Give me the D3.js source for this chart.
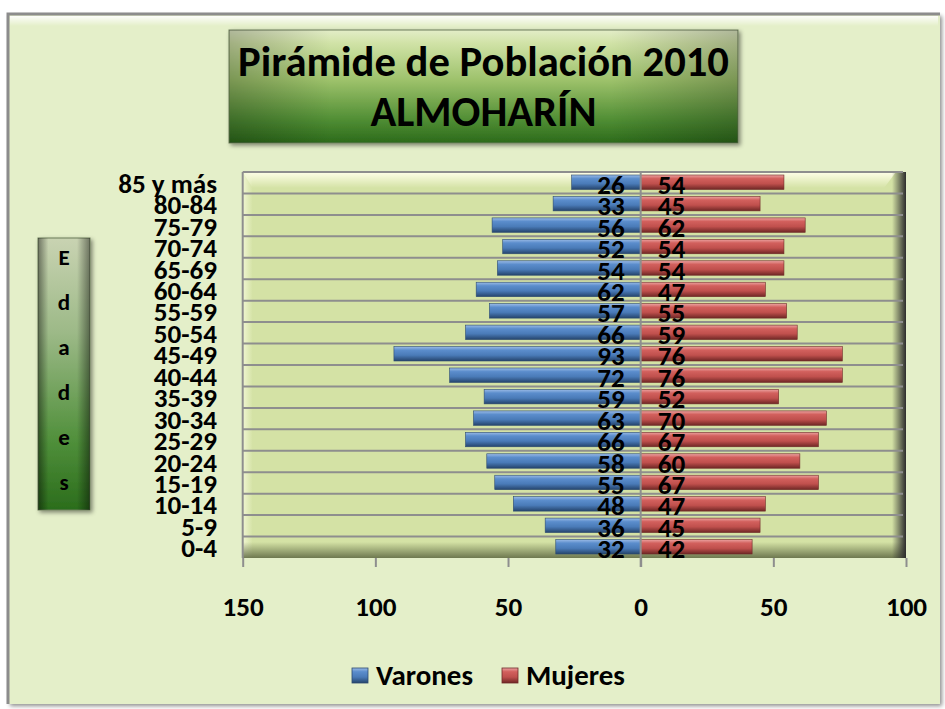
<!DOCTYPE html>
<html lang="es">
<head>
<meta charset="UTF-8">
<title>Pirámide de Población 2010 ALMOHARÍN</title>
<script src="https://cdn.jsdelivr.net/npm/d3@7"></script>
<style>
  body { margin: 0; background: #ffffff; }
  svg { display: block; }
  text { font-family: Carlito, Calibri, Lato, "Open Sans", sans-serif; font-weight: bold; fill: #000; }
</style>
</head>
<body>
<svg id="chart" width="945" height="709"></svg>
<script>
// data
const categories = ["0-4", "5-9", "10-14", "15-19", "20-24", "25-29", "30-34", "35-39", "40-44",
  "45-49", "50-54", "55-59", "60-64", "65-69", "70-74", "75-79", "80-84", "85 y más"];
const varones = [32, 36, 48, 55, 58, 66, 63, 59, 72, 93, 66, 57, 62, 54, 52, 56, 33, 26];
const mujeres = [42, 45, 47, 67, 60, 67, 70, 52, 76, 76, 59, 55, 47, 54, 54, 62, 45, 54];
const xTicks = [-150, -100, -50, 0, 50, 100];
const seriesNames = ["Varones", "Mujeres"];
const titleLines = ["Pirámide de Población 2010", "ALMOHARÍN"];
const axisTitle = "Edades";

const svg = d3.select("#chart");
const defs = svg.append("defs");

// size a font so that a sample string gets the width it has in the picture
function fitSize(sample, target) {
  const t = svg.append("text").attr("font-size", 100).text(sample);
  const w = t.node().getComputedTextLength();
  t.remove();
  return 100 * target / w;
}
const numSize = fitSize("5555", 55);
const titleSize = fitSize(titleLines[0], 491);
const legendSize = fitSize("Varones", 97);

function linGrad(id, stops, vertical = true) {
  const g = defs.append("linearGradient").attr("id", id)
    .attr("x1", 0).attr("y1", 0).attr("x2", vertical ? 0 : 1).attr("y2", vertical ? 1 : 0);
  stops.forEach(s => g.append("stop").attr("offset", s[0]).attr("stop-color", s[1]).attr("stop-opacity", s[2] == null ? 1 : s[2]));
}
linGrad("gBlue", [[0, "#9bbbe6"], [0.25, "#5b8dcc"], [0.6, "#4a7bb8"], [1, "#25446c"]]);
linGrad("gRed", [[0, "#eba3a1"], [0.25, "#d2605d"], [0.6, "#c0504d"], [1, "#6f2725"]]);
linGrad("gTitle", [[0, "#e3edc8"], [0.12, "#d0e2a6"], [0.45, "#9cc16a"], [0.8, "#4f8d33"], [1, "#2c6a1b"]]);
linGrad("gEdades", [[0, "#c9d3b2"], [0.35, "#9cb987"], [0.75, "#4f8f3a"], [1, "#2b6d1c"]]);
linGrad("gEdgeH", [[0, "#000", 0.45], [0.2, "#000", 0], [0.75, "#000", 0], [1, "#000", 0.45]], false);
linGrad("gTopBevel", [[0, "#ffffe8", 1], [1, "#ffffe8", 0]]);
linGrad("gLeftWall", [[0, "#f3f8d6", 0.9], [1, "#f3f8d6", 0]], false);
linGrad("gRightWall", [[0, "#2d2d2d", 0], [1, "#2d2d2d", 1]], false);
linGrad("gFloor", [[0, "#5c6640", 0], [1, "#5c6640", 0.85]]);
linGrad("gOuterTop", [[0, "#ffffff", 0.9], [1, "#ffffff", 0]]);

const shadow = defs.append("filter").attr("id", "shadow").attr("x", "-10%").attr("y", "-10%").attr("width", "130%").attr("height", "130%");
shadow.append("feDropShadow").attr("dx", 2).attr("dy", 2).attr("stdDeviation", 2).attr("flood-color", "#000").attr("flood-opacity", 0.45);

// outer chart area
svg.append("rect").attr("x", 8).attr("y", 14).attr("width", 932).attr("height", 690)
  .attr("fill", "#e4efc9").attr("filter", "url(#shadow)");
svg.append("rect").attr("x", 10).attr("y", 16).attr("width", 928).attr("height", 10).attr("fill", "url(#gOuterTop)");
svg.append("path").attr("d", "M8,704 V14 H940").attr("fill", "none").attr("stroke", "#8c8c8c").attr("stroke-width", 3);

// title box
const tb = { x: 229, y: 30, w: 509, h: 113 };
svg.append("rect").attr("x", tb.x).attr("y", tb.y).attr("width", tb.w).attr("height", tb.h)
  .attr("fill", "url(#gTitle)").attr("stroke", "#6d7d5a").attr("stroke-width", 1).attr("filter", "url(#shadow)");
svg.append("rect").attr("x", tb.x).attr("y", tb.y).attr("width", tb.w).attr("height", tb.h)
  .attr("fill", "url(#gEdgeH)").attr("opacity", 0.5);
svg.selectAll("text.title").data(titleLines).join("text").attr("class", "title")
  .attr("x", tb.x + tb.w / 2).attr("y", (d, i) => 76 + i * 50)
  .attr("text-anchor", "middle").attr("font-size", titleSize).text(d => d);

// "Edades" box
const eb = { x: 38, y: 238, w: 52, h: 272 };
svg.append("rect").attr("x", eb.x).attr("y", eb.y).attr("width", eb.w).attr("height", eb.h)
  .attr("fill", "url(#gEdades)").attr("stroke", "#6d7d5a").attr("stroke-width", 1).attr("filter", "url(#shadow)");
svg.append("rect").attr("x", eb.x).attr("y", eb.y).attr("width", eb.w).attr("height", eb.h)
  .attr("fill", "url(#gEdgeH)");
svg.selectAll("text.edad").data(axisTitle.split("")).join("text").attr("class", "edad")
  .attr("x", eb.x + eb.w / 2).attr("y", (d, i) => 265 + i * 45)
  .attr("text-anchor", "middle").attr("font-size", numSize * 0.85).text(d => d);

// scales
const x = d3.scaleLinear().domain([-150, 100]).range([242.7, 906]);
const y = d3.scaleBand().domain(categories.slice().reverse()).range([172, 558]);
const bandH = y.bandwidth();

// plot area with 3D walls
const px0 = x(-150), px1 = x(100), py0 = 172, py1 = 558;
svg.append("rect").attr("x", px0).attr("y", py0).attr("width", px1 - px0).attr("height", py1 - py0).attr("fill", "#d4e2a5");
svg.append("path").attr("d", `M${px0},${py0} H${px1 - 10} L${px1 - 22},${py0 + 16} H${px0 + 10} Z`).attr("fill", "url(#gTopBevel)");
svg.append("rect").attr("x", px0).attr("y", py0).attr("width", 10).attr("height", py1 - py0).attr("fill", "url(#gLeftWall)");
svg.append("rect").attr("x", px0).attr("y", py1 - 16).attr("width", px1 - px0).attr("height", 16).attr("fill", "url(#gFloor)");
svg.append("rect").attr("x", px1 - 14).attr("y", py0).attr("width", 14).attr("height", py1 - py0).attr("fill", "url(#gRightWall)");

// gridlines between rows
svg.selectAll("line.grid").data(categories).join("line").attr("class", "grid")
  .attr("x1", px0).attr("x2", px1 - 3).attr("y1", c => y(c)).attr("y2", c => y(c))
  .attr("stroke", "#8e8e8e").attr("stroke-width", 2);
svg.append("line").attr("x1", px0).attr("x2", px0).attr("y1", py0).attr("y2", py1).attr("stroke", "#8e8e8e").attr("stroke-width", 2);

// bars
const barPad = 3;
svg.selectAll("rect.var").data(categories).join("rect").attr("class", "var")
  .attr("x", (c, i) => x(-varones[i])).attr("width", (c, i) => x(0) - x(-varones[i]))
  .attr("y", c => y(c) + barPad).attr("height", bandH - 2 * barPad - 1)
  .attr("fill", "url(#gBlue)").attr("stroke", "#2c4a70").attr("stroke-width", 0.6);
svg.selectAll("rect.muj").data(categories).join("rect").attr("class", "muj")
  .attr("x", x(0)).attr("width", (c, i) => x(mujeres[i]) - x(0))
  .attr("y", c => y(c) + barPad).attr("height", bandH - 2 * barPad - 1)
  .attr("fill", "url(#gRed)").attr("stroke", "#6f2a28").attr("stroke-width", 0.6);

// zero axis and x axis
svg.append("line").attr("x1", x(0)).attr("x2", x(0)).attr("y1", py0).attr("y2", py1 + 9).attr("stroke", "#8e8e8e").attr("stroke-width", 2);
const xAxis = d3.axisBottom(x).tickValues(xTicks).tickFormat(d => Math.abs(d)).tickSize(9).tickPadding(30);
const gx = svg.append("g").attr("transform", `translate(0,${py1})`).call(xAxis);
gx.attr("font-family", null).attr("font-size", null);
gx.select(".domain").remove();
gx.selectAll(".tick line").attr("stroke", "#8e8e8e").attr("stroke-width", 2);
gx.selectAll(".tick text").attr("font-size", numSize).attr("fill", "#000");

// category labels
svg.selectAll("text.cat").data(categories).join("text").attr("class", "cat")
  .attr("x", 217).attr("y", c => y(c) + bandH / 2 + 10)
  .attr("text-anchor", "end").attr("font-size", numSize).text(c => c);

// data labels
svg.selectAll("text.lv").data(categories).join("text").attr("class", "lv")
  .attr("x", x(0) - 16).attr("y", c => y(c) + bandH / 2 + 11)
  .attr("text-anchor", "end").attr("font-size", numSize).text((c, i) => varones[i]);
svg.selectAll("text.lm").data(categories).join("text").attr("class", "lm")
  .attr("x", x(0) + 17).attr("y", c => y(c) + bandH / 2 + 11)
  .attr("text-anchor", "start").attr("font-size", numSize).text((c, i) => mujeres[i]);

// legend
const legend = svg.append("g");
const legendX = [352, 502];
const legendFills = ["url(#gBlue)", "url(#gRed)"];
seriesNames.forEach((name, i) => {
  legend.append("rect").attr("x", legendX[i]).attr("y", 668).attr("width", 16).attr("height", 15)
    .attr("fill", legendFills[i]).attr("stroke", i ? "#6f2a28" : "#2c4a70").attr("stroke-width", 0.8);
  legend.append("text").attr("x", legendX[i] + 24).attr("y", 685).attr("font-size", legendSize).text(name);
});
</script>
</body>
</html>
